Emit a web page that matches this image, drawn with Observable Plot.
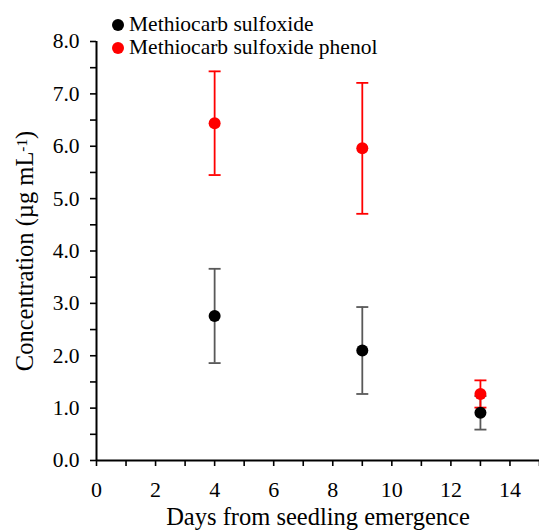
<!DOCTYPE html>
<html><head><meta charset="utf-8">
<script src="https://cdn.jsdelivr.net/npm/d3@7"></script>
<script src="https://cdn.jsdelivr.net/npm/@observablehq/plot@0.6"></script>
<style>
body{margin:0;background:#fff;}
#wrap{position:relative;width:539px;height:530px;overflow:hidden;font-family:"Liberation Serif","Times New Roman",serif;}
#legend{position:absolute;left:112px;top:13px;font-size:21.5px;color:#000;font-family:"Liberation Serif","Times New Roman",serif;}
.row{display:flex;align-items:center;height:23px;white-space:nowrap;}
.sw{width:12px;height:12px;border-radius:50%;margin-right:5px;flex:none;}
</style></head><body><div id="wrap"><div id="legend"></div></div>
<script>
const days = [4, 9, 13];
const seriesNames = ["Methiocarb sulfoxide", "Methiocarb sulfoxide phenol"];
const dotColors = ["#000000", "#ff0000"];
const barColors = ["#595959", "#ff0000"];
const sulfoxide = [2.76, 2.10, 0.91];
const sulfoxideErr = [0.90, 0.83, 0.32];
const phenol = [6.44, 5.96, 1.27];
const phenolErr = [0.99, 1.25, 0.26];
const xMajorTicks = [0, 2, 4, 6, 8, 10, 12, 14];
const xMinorTicks = [1, 3, 5, 7, 9, 11, 13, 15];
const yMajorTicks = [0, 1, 2, 3, 4, 5, 6, 7, 8];
const yMinorTicks = [0.5, 1.5, 2.5, 3.5, 4.5, 5.5, 6.5, 7.5];
const xTitle = "Days from seedling emergence";
const yTitleMain = "Concentration (µg mL";
const yTitleSup = "-1";
const yTitleEnd = ")";

const serif = '"Liberation Serif","Times New Roman",serif';
const values = [sulfoxide, phenol];
const errs = [sulfoxideErr, phenolErr];
const series = seriesNames.map((name, i) => days.map((d, j) => ({
  name, day: d, value: values[i][j], lo: values[i][j] - errs[i][j], hi: values[i][j] + errs[i][j]
})));

const cap = {draw(ctx, size) { const w = Math.sqrt(size / Math.PI); ctx.moveTo(-w, 0); ctx.lineTo(w, 0); }};

function barMarks(i) {
  return [
    Plot.ruleX(series[i], {x: "day", y1: "lo", y2: "hi", stroke: barColors[i], strokeWidth: 1.8}),
    Plot.dot(series[i], {x: "day", y: "hi", symbol: cap, r: 6, stroke: barColors[i], fill: "none", strokeWidth: 1.8}),
    Plot.dot(series[i], {x: "day", y: "lo", symbol: cap, r: 6, stroke: barColors[i], fill: "none", strokeWidth: 1.8})
  ];
}

const yTitleFull = yTitleMain + yTitleSup + yTitleEnd;

const chart = Plot.plot({
  width: 539, height: 530,
  marginLeft: 96, marginRight: 0, marginTop: 41, marginBottom: 70,
  style: {fontFamily: serif, color: "#000", background: "transparent", overflow: "visible"},
  x: {domain: [0, 15]},
  y: {domain: [0, 8]},
  marks: [
    Plot.axisX({ticks: xMajorTicks, tickSize: 6, tickPadding: 15, fontSize: 22, fontFamily: serif, label: null, strokeWidth: 1.6}),
    Plot.axisX({ticks: xMinorTicks, tickSize: 6, tickFormat: () => "", label: null, strokeWidth: 1.6}),
    Plot.axisY({ticks: yMajorTicks, tickSize: 6, tickPadding: 11, fontSize: 21.5, fontFamily: serif, tickFormat: d3.format(".1f"), label: null, strokeWidth: 1.6}),
    Plot.axisY({ticks: yMinorTicks, tickSize: 6, tickFormat: () => "", label: null, strokeWidth: 1.6}),
    Plot.ruleX([0], {stroke: "#000", strokeWidth: 2}),
    Plot.ruleY([0], {stroke: "#000", strokeWidth: 2}),
    ...barMarks(0),
    ...barMarks(1),
    Plot.dot(series[1], {x: "day", y: "value", r: 6, fill: dotColors[1]}),
    Plot.dot(series[0], {x: "day", y: "value", r: 6, fill: dotColors[0]}),
    Plot.text([xTitle], {text: d => d, frameAnchor: "bottom", dy: 64, fontSize: 24.5, fontFamily: serif, fill: "#000"}),
    Plot.text([yTitleFull], {text: d => d, frameAnchor: "left", textAnchor: "middle", rotate: -90, dx: -71, dy: 0, fontSize: 24.5, fontFamily: serif, fill: "#000"})
  ]
});

d3.select(chart).selectAll("text").filter(function() { return this.textContent === yTitleFull; }).each(function() {
  const t = d3.select(this);
  t.text(null);
  t.append("tspan").text(yTitleMain);
  t.append("tspan").attr("dy", "-0.45em").attr("font-size", "0.62em").text(yTitleSup);
  t.append("tspan").attr("dy", "0.28em").text(yTitleEnd);
});

document.getElementById("wrap").appendChild(chart);
chart.style.position = "absolute"; chart.style.left = "0"; chart.style.top = "0";
const legend = document.getElementById("legend");
legend.style.zIndex = 2;
seriesNames.forEach((n, i) => {
  const row = document.createElement("div"); row.className = "row";
  const sw = document.createElement("span"); sw.className = "sw"; sw.style.background = dotColors[i];
  const tx = document.createElement("span"); tx.textContent = n;
  row.appendChild(sw); row.appendChild(tx); legend.appendChild(row);
});
</script></body></html>
